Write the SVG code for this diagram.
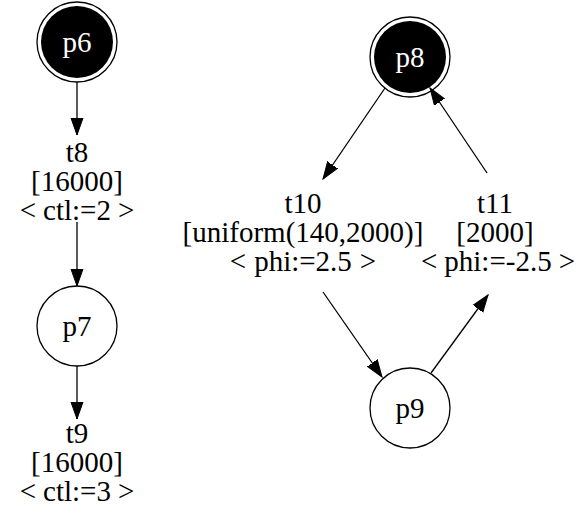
<svg xmlns="http://www.w3.org/2000/svg" width="580" height="518" viewBox="0 0 580 518">
<style>
text{font-family:"Liberation Serif","Times New Roman",serif;font-size:29px;text-anchor:middle;fill:#000}
.w{fill:#fff}
.pl{fill:#fff;stroke:#000;stroke-width:1.3}
.ring{fill:none;stroke:#000;stroke-width:1.3}
.e{stroke:#000;stroke-width:1.3;fill:none;marker-end:url(#ah)}
</style>
<defs>
<marker id="ah" markerUnits="userSpaceOnUse" markerWidth="18" markerHeight="14" viewBox="0 -7 18 14" refX="17" refY="0" orient="auto">
<path d="M0,-6 L17,0 L0,6 Z" fill="#000" stroke="#000" stroke-width="1"/>
</marker>
</defs>
<g id="edges">
<line class="e" x1="77" y1="82" x2="77" y2="135"/>
<line class="e" x1="77" y1="222" x2="77" y2="286"/>
<line class="e" x1="77" y1="366" x2="77" y2="419"/>
<line class="e" x1="385" y1="88" x2="323" y2="179"/>
<line class="e" x1="323" y1="292" x2="382" y2="377"/>
<line class="e" x1="431" y1="373" x2="488" y2="295"/>
<line class="e" x1="487" y1="173" x2="430" y2="88"/>
</g>
<g id="p6">
<circle class="ring" cx="77" cy="42" r="40"/>
<circle cx="77" cy="42" r="36" fill="#000"/>
<text class="w" x="77" y="52">p6</text>
</g>
<g id="t8">
<text x="77" y="162">t8</text>
<text x="77" y="191">[16000]</text>
<text x="77" y="220">&lt;<tspan dx="7">ctl:=2</tspan><tspan dx="7">&gt;</tspan></text>
</g>
<g id="p7">
<circle class="pl" cx="77" cy="326" r="40"/>
<text x="77" y="336">p7</text>
</g>
<g id="t9">
<text x="77" y="443">t9</text>
<text x="77" y="472">[16000]</text>
<text x="77" y="501">&lt;<tspan dx="7">ctl:=3</tspan><tspan dx="7">&gt;</tspan></text>
</g>
<g id="p8">
<circle class="ring" cx="410" cy="57" r="40"/>
<circle cx="410" cy="57" r="36" fill="#000"/>
<text class="w" x="410" y="67">p8</text>
</g>
<g id="t10">
<text x="303" y="213">t10</text>
<text x="303" y="242">[uniform(140,2000)]</text>
<text x="303" y="271">&lt;<tspan dx="8">phi:=2.5</tspan><tspan dx="8">&gt;</tspan></text>
</g>
<g id="t11">
<text x="495" y="213">t11</text>
<text x="495" y="242">[2000]</text>
<text x="498" y="271">&lt;<tspan dx="7">phi:=-2.5</tspan><tspan dx="7">&gt;</tspan></text>
</g>
<g id="p9">
<circle class="pl" cx="410" cy="408" r="40"/>
<text x="410" y="418">p9</text>
</g>
</svg>
